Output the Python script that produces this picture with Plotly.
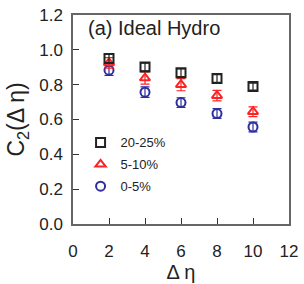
import plotly.graph_objects as go

delta_eta = [2, 4, 6, 8, 10]
c2_20_25 = [0.950, 0.901, 0.868, 0.836, 0.789]
err_20_25 = [0.025, 0.022, 0.022, 0.022, 0.020]
c2_5_10 = [0.925, 0.838, 0.800, 0.737, 0.645]
err_5_10 = [0.030, 0.035, 0.035, 0.030, 0.028]
c2_0_5 = [0.883, 0.757, 0.697, 0.634, 0.557]
err_0_5 = [0.030, 0.030, 0.028, 0.028, 0.028]

series = [
    ("0-5%", c2_0_5, err_0_5, "#2e2e9e", "circle-open", 3),
    ("5-10%", c2_5_10, err_5_10, "#ff2222", "triangle-up-open", 2),
    ("20-25%", c2_20_25, err_20_25, "#222222", "square-open", 1),
]

FONT = "Arial, Liberation Sans, sans-serif"

fig = go.Figure()
for name, y, e, col, sym, rank in series:
    fig.add_trace(go.Scatter(
        x=delta_eta, y=y, name=name, mode="markers",
        marker=dict(symbol=sym, color=col, size=9, line=dict(width=2, color=col)),
        error_y=dict(type="data", array=e, color=col, thickness=1.2, width=4.5),
        legendrank=rank, legendgroup=name,
    ))

axis_common = dict(
    showgrid=False, zeroline=False, showline=True, linecolor="#666666", linewidth=1.5,
    mirror=True, ticks="inside", ticklen=6, tickcolor="#333333", tickwidth=1.2,
    ticklabeloverflow="allow",
    tickfont=dict(family=FONT, size=17, color="#222222"),
)

fig.update_layout(
    width=304, height=284,
    margin=dict(l=73, r=10, t=6, b=56),
    paper_bgcolor="white", plot_bgcolor="white",
    xaxis=dict(range=[0, 12], dtick=2, tickformat="d", ticklabelstandoff=11,
               title=dict(text="Δ η", font=dict(family=FONT, size=20, color="#222222"), standoff=3),
               **axis_common),
    yaxis=dict(range=[0, 1.2], dtick=0.2, tickformat=".1f", ticklabelstandoff=5,
               title=dict(text="C<sub>2</sub>(Δ η)", font=dict(family=FONT, size=23, color="#222222"), standoff=8),
               **axis_common),
    legend=dict(x=0.035, y=0.462, xanchor="left", yanchor="top", bgcolor="rgba(0,0,0,0)",
                font=dict(family=FONT, size=13, color="#222222"),
                tracegroupgap=2),
    annotations=[dict(text="(a) Ideal Hydro", x=0.06, y=0.937, xref="paper", yref="paper",
                      xanchor="left", yanchor="middle", showarrow=False,
                      font=dict(family=FONT, size=20, color="#222222"))],
)

fig.write_html("out.html", config={"displayModeBar": False},
               post_script="document.body.style.margin='0';")
